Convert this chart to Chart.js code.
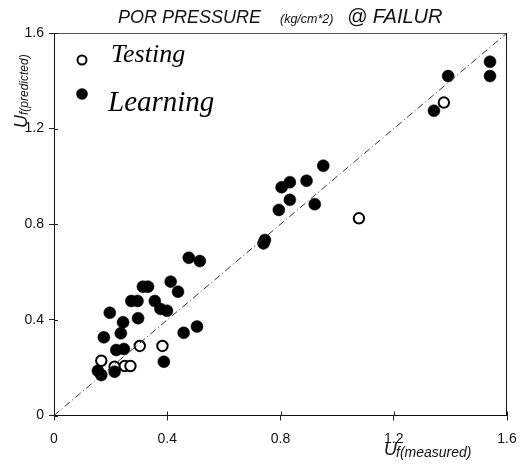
<!DOCTYPE html>
<html>
<head>
<meta charset="utf-8">
<script src="https://cdn.jsdelivr.net/npm/chart.js@4.4.1/dist/chart.umd.min.js"></script>
<style>
html,body{margin:0;padding:0;background:#fff;}
#wrap{width:520px;height:466px;}
</style>
</head>
<body>
<div id="wrap"><canvas id="c" width="520" height="466"></canvas></div>
<script>
// ---- data ----
const learningX = [0.476,0.515,0.314,0.332,0.412,0.438,0.273,0.295,0.356,0.376,0.399,0.197,0.297,0.244,0.236,0.176,0.458,0.505,0.220,0.247,0.388,0.155,0.167,0.214,0.951,0.892,0.833,0.804,0.833,0.794,0.921,0.745,0.740,1.540,1.540,1.392,1.342];
const learningY = [0.660,0.646,0.539,0.539,0.560,0.518,0.479,0.479,0.479,0.446,0.438,0.430,0.407,0.390,0.344,0.327,0.346,0.372,0.274,0.278,0.225,0.187,0.169,0.183,1.045,0.982,0.976,0.955,0.902,0.860,0.884,0.734,0.720,1.480,1.420,1.420,1.275];
const testingX = [0.303,0.383,0.167,0.214,0.250,0.270,1.077,1.377];
const testingY = [0.291,0.291,0.229,0.204,0.207,0.207,0.825,1.309];
const lineX = [0, 1.6];
const lineY = [0, 1.6];
const tickValues = [0, 0.4, 0.8, 1.2, 1.6];
const tickLabels = ['0', '0.4', '0.8', '1.2', '1.6'];

const zip = (xs, ys) => xs.map((x, i) => ({x: x, y: ys[i]}));
const fmt = v => { const i = tickValues.findIndex(t => Math.abs(t - v) < 1e-6); return i >= 0 ? tickLabels[i] : ''; };

const decor = {
  id: 'decor',
  afterDraw(chart) {
    const ctx = chart.ctx, a = chart.chartArea;
    ctx.save();
    // top and right frame
    ctx.lineWidth = 1;
    ctx.strokeStyle = '#555';
    ctx.beginPath(); ctx.moveTo(a.left, a.top + 0.5); ctx.lineTo(a.right, a.top + 0.5); ctx.stroke();
    ctx.strokeStyle = '#111';
    ctx.beginPath(); ctx.moveTo(a.right - 0.5, a.top); ctx.lineTo(a.right - 0.5, a.bottom); ctx.stroke();
    // inner tick marks (ticks cross the axes)
    const xs = chart.scales.x, ys = chart.scales.y;
    ctx.strokeStyle = '#222';
    tickValues.forEach(v => {
      const px = Math.round(xs.getPixelForValue(v)) + 0.5;
      ctx.beginPath(); ctx.moveTo(px, a.bottom); ctx.lineTo(px, a.bottom - 4); ctx.stroke();
      const py = Math.round(ys.getPixelForValue(v)) + 0.5;
      ctx.beginPath(); ctx.moveTo(a.left, py); ctx.lineTo(a.left + 4, py); ctx.stroke();
    });
    ctx.fillStyle = '#111';
    ctx.textBaseline = 'alphabetic';
    ctx.textAlign = 'left';
    // title
    ctx.font = 'italic 18px "Liberation Sans", Arial, sans-serif';
    ctx.fillText('POR PRESSURE', 118, 23);
    ctx.font = 'italic 12.5px "Liberation Sans", Arial, sans-serif';
    ctx.fillText('(kg/cm*2)', 280, 23);
    ctx.font = 'italic 20px "Liberation Sans", Arial, sans-serif';
    ctx.fillText('@ FAILUR', 347, 23);
    // x axis title
    ctx.font = 'italic 18px "Liberation Sans", Arial, sans-serif';
    ctx.fillText('U', 384, 455);
    ctx.font = 'italic 14px "Liberation Sans", Arial, sans-serif';
    ctx.fillText('f(measured)', 396, 457);
    // y axis title (rotated)
    ctx.save();
    ctx.translate(27, 128);
    ctx.rotate(-Math.PI / 2);
    ctx.font = 'italic 18px "Liberation Sans", Arial, sans-serif';
    ctx.fillText('U', 0, 0);
    ctx.font = 'italic 12px "Liberation Sans", Arial, sans-serif';
    ctx.fillText('f(predicted)', 13, 1);
    ctx.restore();
    // legend
    ctx.lineWidth = 2;
    ctx.strokeStyle = '#000';
    ctx.beginPath(); ctx.arc(82, 60, 4.5, 0, Math.PI * 2); ctx.stroke();
    ctx.fillStyle = '#000';
    ctx.beginPath(); ctx.arc(82, 94, 5.8, 0, Math.PI * 2); ctx.fill();
    ctx.font = 'italic 26px "Liberation Serif", "Times New Roman", serif';
    ctx.fillText('Testing', 111, 62);
    ctx.font = 'italic 29px "Liberation Serif", "Times New Roman", serif';
    ctx.fillText('Learning', 108, 111);
    ctx.restore();
  }
};

new Chart(document.getElementById('c'), {
  type: 'scatter',
  data: {
    datasets: [
      {
        label: 'Diagonal',
        data: zip(lineX, lineY),
        showLine: true,
        pointRadius: 0,
        borderColor: '#333',
        borderWidth: 1,
        borderDash: [7, 3, 1, 3],
        fill: false
      },
      {
        label: 'Learning',
        data: zip(learningX, learningY),
        pointRadius: 6,
        pointBackgroundColor: '#000',
        pointBorderColor: '#000',
        pointBorderWidth: 0.5
      },
      {
        label: 'Testing',
        data: zip(testingX, testingY),
        pointRadius: 5.2,
        pointBackgroundColor: '#fff',
        pointBorderColor: '#000',
        pointBorderWidth: 2
      }
    ]
  },
  options: {
    responsive: false,
    animation: false,
    devicePixelRatio: 1,
    layout: { padding: { left: 0, right: 13, top: 33, bottom: 0 } },
    plugins: { legend: { display: false }, tooltip: { enabled: false }, title: { display: false } },
    scales: {
      x: {
        type: 'linear', min: 0, max: 1.6,
        afterFit: s => { s.height = 50.5; s.paddingLeft = 0; s.paddingRight = 0; },
        afterBuildTicks: s => { s.ticks = tickValues.map(v => ({value: v})); },
        ticks: { callback: fmt, font: { family: '"Liberation Sans", Arial, sans-serif', size: 14 }, color: '#111', padding: 10, maxRotation: 0 },
        grid: { drawOnChartArea: false, drawTicks: true, tickLength: 5, color: '#222' },
        border: { display: true, color: '#111', width: 1 }
      },
      y: {
        type: 'linear', min: 0, max: 1.6,
        afterFit: s => { s.width = 54; s.paddingTop = 0; s.paddingBottom = 0; },
        afterBuildTicks: s => { s.ticks = tickValues.map(v => ({value: v})); },
        ticks: { callback: fmt, font: { family: '"Liberation Sans", Arial, sans-serif', size: 14 }, color: '#111', padding: 5 },
        grid: { drawOnChartArea: false, drawTicks: true, tickLength: 5, color: '#222' },
        border: { display: true, color: '#111', width: 1 }
      }
    }
  },
  plugins: [decor]
});
</script>
</body>
</html>
